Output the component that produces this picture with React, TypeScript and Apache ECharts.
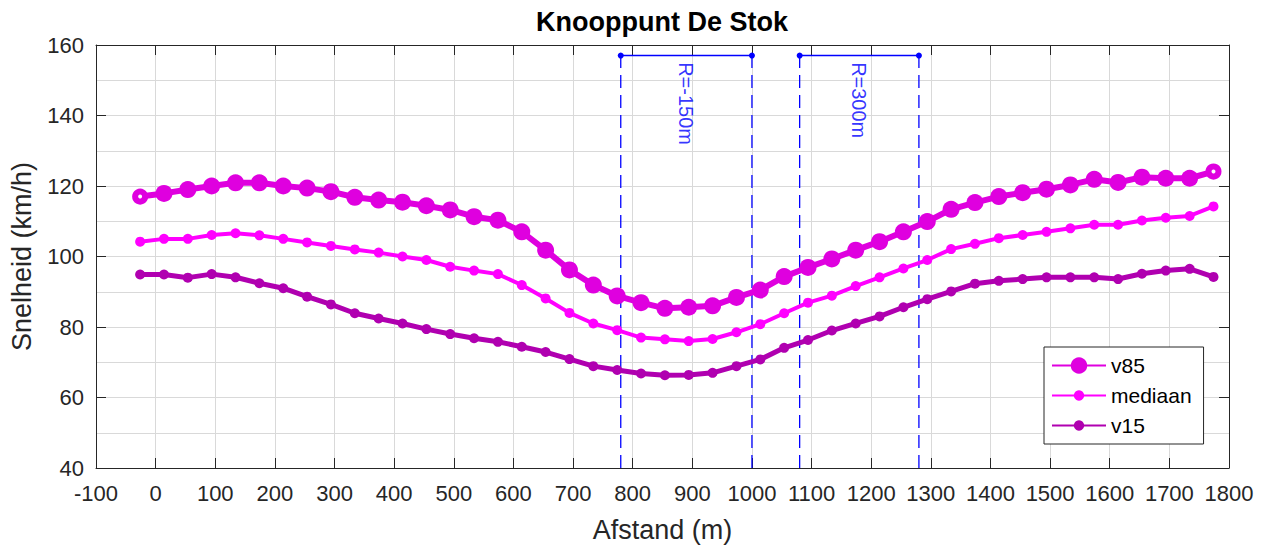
import React, { useEffect, useRef } from 'react';
import * as echarts from 'echarts';

// Distance along the road (m)
const distance = [
  -26, 14, 54, 94, 134, 174, 214, 254, 294, 334, 374, 414, 454, 494, 534, 574,
  614, 654, 694, 734, 774, 814, 854, 894, 934, 974, 1014, 1054, 1094, 1134,
  1174, 1214, 1254, 1294, 1334, 1374, 1414, 1454, 1494, 1534, 1574, 1614,
  1654, 1694, 1734, 1774,
];

// Speeds (km/h)
const v85 = [
  117.0, 117.9, 119.0, 120.0, 120.9, 120.9, 120.0, 119.4, 118.4, 116.8, 116.0,
  115.4, 114.4, 113.2, 111.3, 110.3, 107.0, 101.8, 96.2, 91.9, 88.8, 86.9,
  85.3, 85.6, 86.0, 88.4, 90.5, 94.3, 96.9, 99.3, 101.8, 104.2, 107.0, 109.9,
  113.4, 115.3, 117.0, 118.1, 119.1, 120.3, 121.9, 121.0, 122.5, 122.2, 122.2,
  124.1,
];
const mediaan = [
  104.2, 105.0, 105.0, 106.1, 106.6, 106.0, 105.0, 104.0, 103.0, 102.0, 101.1,
  100.0, 99.0, 97.1, 96.0, 95.0, 91.9, 88.1, 84.0, 81.0, 79.1, 77.0, 76.5,
  76.0, 76.6, 78.5, 80.8, 83.9, 86.9, 88.9, 91.6, 94.1, 96.6, 99.0, 102.1,
  103.6, 105.2, 106.1, 107.0, 108.0, 109.0, 109.0, 110.2, 111.0, 111.5, 114.2,
];
const v15 = [
  94.9, 94.9, 94.0, 95.0, 94.1, 92.4, 91.0, 88.6, 86.4, 83.9, 82.4, 81.0, 79.4,
  78.0, 76.8, 75.8, 74.4, 72.9, 70.9, 68.9, 67.8, 66.8, 66.3, 66.4, 67.0, 68.9,
  70.8, 74.1, 76.3, 79.0, 81.0, 83.0, 85.6, 87.9, 90.1, 92.3, 93.1, 93.6, 94.1,
  94.1, 94.1, 93.6, 95.1, 96.0, 96.5, 94.2,
];

// Curve sections (bogen)
const curveStart = [780, 1080];
const curveEnd = [1000, 1280];
const curveMid = [890, 1180];
const curveLabels = ['R=-150m', 'R=300m'];
const bracketLevel = 157;
const labelLevel = 155;

// Axes
const xMin = -100;
const xMax = 1800;
const xStep = 100;
const yMin = 40;
const yMax = 160;
const yStep = 20;

const seriesNames = ['v85', 'mediaan', 'v15'];

const FONT = '"Liberation Sans", Arial, Helvetica, sans-serif';
const C85 = '#df00df';
const CMED = '#ff00ff';
const C15 = '#b000b0';
const BLUE = '#0000ff';
const AXIS = '#262626';
const GRID = '#d9d9d9';

export default function App() {
  const ref = useRef<HTMLDivElement>(null);

  useEffect(() => {
    const chart = echarts.init(ref.current!, null, { renderer: 'svg' });
    const n = distance.length;

    const v85Data = distance.map((x, i) =>
      i === 0 || i === n - 1
        ? {
            value: [x, v85[i]],
            symbolSize: 10,
            itemStyle: { color: '#ffffff', borderColor: C85, borderWidth: 6 },
          }
        : [x, v85[i]]
    );

    const curveSeries: any[] = [];
    curveStart.forEach((s, k) => {
      const e = curveEnd[k];
      [s, e].forEach((xv) => {
        curveSeries.push({
          type: 'line',
          data: [
            [xv, yMin],
            [xv, bracketLevel],
          ],
          symbol: 'none',
          lineStyle: { color: BLUE, width: 1.3, type: [13, 7] },
          z: 1,
          silent: true,
        });
      });
      curveSeries.push({
        type: 'line',
        data: [
          [s, bracketLevel],
          [e, bracketLevel],
        ],
        symbol: 'circle',
        symbolSize: 6,
        itemStyle: { color: BLUE },
        lineStyle: { color: BLUE, width: 1.5 },
        z: 1,
        silent: true,
      });
    });
    curveSeries.push({
      type: 'scatter',
      data: curveMid.map((x) => [x, labelLevel]),
      symbolSize: 1,
      itemStyle: { color: 'rgba(0,0,0,0)' },
      silent: true,
      label: {
        show: true,
        position: [0, 0],
        rotate: -90,
        align: 'left',
        verticalAlign: 'middle',
        color: BLUE,
        fontSize: 20,
        fontFamily: FONT,
        formatter: (p: any) => curveLabels[p.dataIndex],
      },
    });

    const baseX = {
      type: 'value',
      min: xMin,
      max: xMax,
      interval: xStep,
    };
    const baseY = {
      type: 'value',
      min: yMin,
      max: yMax,
      interval: yStep,
    };
    const plain = (v: number) => String(v);

    const option: any = {
      animation: false,
      backgroundColor: '#ffffff',
      textStyle: { fontFamily: FONT },
      title: {
        text: 'Knooppunt De Stok',
        left: 662,
        top: 8,
        textAlign: 'center',
        padding: 0,
        textStyle: {
          fontSize: 27,
          fontWeight: 'bold',
          color: '#000000',
          fontFamily: FONT,
        },
      },
      grid: { left: 95, right: 42, top: 45, bottom: 79 },
      legend: {
        data: [
          { name: seriesNames[0], itemStyle: { borderColor: C85, borderWidth: 6 } },
          seriesNames[1],
          seriesNames[2],
        ],
        orient: 'vertical',
        left: 1044,
        top: 347,
        padding: [8, 12, 8, 7],
        itemWidth: 54,
        itemHeight: 13,
        itemGap: 9,
        backgroundColor: '#ffffff',
        borderColor: AXIS,
        borderWidth: 1,
        borderRadius: 0,
        textStyle: { fontSize: 21, color: '#000000', fontFamily: FONT },
      },
      xAxis: [
        {
          ...baseX,
          position: 'bottom',
          name: 'Afstand (m)',
          nameLocation: 'middle',
          nameGap: 48,
          nameTextStyle: { fontSize: 27, color: AXIS, fontFamily: FONT },
          axisLine: { show: true, onZero: false, lineStyle: { color: AXIS, width: 1 } },
          axisTick: { show: true, inside: true, length: 10, lineStyle: { color: AXIS } },
          axisLabel: { fontSize: 22, color: AXIS, margin: 14, fontFamily: FONT, formatter: plain },
          splitLine: { show: true, lineStyle: { color: GRID, width: 1 } },
        },
        {
          ...baseX,
          position: 'top',
          axisLine: { show: true, onZero: false, lineStyle: { color: AXIS, width: 1 } },
          axisTick: { show: true, inside: true, length: 10, lineStyle: { color: AXIS } },
          axisLabel: { show: false },
          splitLine: { show: false },
        },
      ],
      yAxis: [
        {
          ...baseY,
          position: 'left',
          name: 'Snelheid (km/h)',
          nameLocation: 'middle',
          nameGap: 61,
          nameTextStyle: { fontSize: 27, color: AXIS, fontFamily: FONT },
          axisLine: { show: true, onZero: false, lineStyle: { color: AXIS, width: 1 } },
          axisTick: { show: true, inside: true, length: 10, lineStyle: { color: AXIS } },
          axisLabel: { fontSize: 22, color: AXIS, margin: 12, fontFamily: FONT, formatter: plain },
          splitLine: { show: true, lineStyle: { color: GRID, width: 1 } },
          minorTick: { show: false, splitNumber: 2 },
          minorSplitLine: { show: true, lineStyle: { color: GRID, width: 1 } },
        },
        {
          ...baseY,
          position: 'right',
          axisLine: { show: true, onZero: false, lineStyle: { color: AXIS, width: 1 } },
          axisTick: { show: true, inside: true, length: 10, lineStyle: { color: AXIS } },
          axisLabel: { show: false },
          splitLine: { show: false },
        },
      ],
      series: [
        ...curveSeries,
        {
          name: seriesNames[0],
          type: 'line',
          data: v85Data,
          symbol: 'circle',
          symbolSize: 17,
          itemStyle: { color: C85 },
          lineStyle: { color: C85, width: 6 },
          z: 3,
        },
        {
          name: seriesNames[1],
          type: 'line',
          data: distance.map((x, i) => [x, mediaan[i]]),
          symbol: 'circle',
          symbolSize: 10,
          itemStyle: { color: CMED },
          lineStyle: { color: CMED, width: 4 },
          z: 3,
        },
        {
          name: seriesNames[2],
          type: 'line',
          data: distance.map((x, i) => [x, v15[i]]),
          symbol: 'circle',
          symbolSize: 10,
          itemStyle: { color: C15 },
          lineStyle: { color: C15, width: 5 },
          z: 3,
        },
      ],
    };

    chart.setOption(option);
    return () => chart.dispose();
  }, []);

  return (
    <div
      ref={ref}
      style={{ position: 'fixed', left: 0, top: 0, width: 1271, height: 548 }}
    />
  );
}
